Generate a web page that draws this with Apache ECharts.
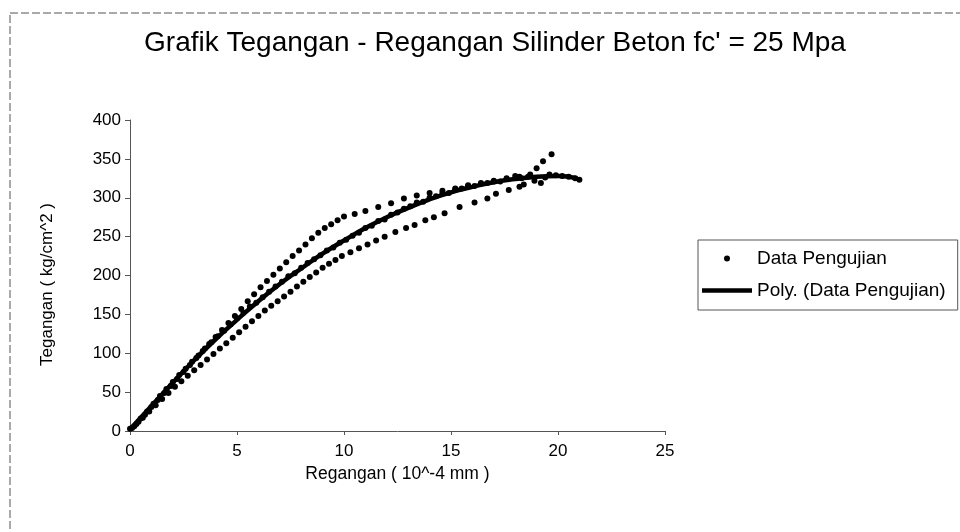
<!DOCTYPE html>
<html><head><meta charset="utf-8">
<script src="https://cdn.jsdelivr.net/npm/echarts@6/dist/echarts.min.js"></script>
<style>html,body{margin:0;padding:0;background:#fff}#c{width:960px;height:532px}</style>
</head><body><div id="c"></div>
<script>
// Specimen points (strain 10^-4, stress kg/cm2)
const strainA = [0.1,0.4,0.7,1.0,1.3,1.6,1.9,2.2,2.5,2.8,3.1,3.4,3.7,4.0,4.3,4.6,4.9,5.2,5.5,5.8,6.1,6.4,6.7,7.0,7.3,7.6,7.9,8.2,8.5,8.8,9.1,9.4,9.7,10.0,10.5,11.0,11.6,12.2,12.8,13.4,14.0,14.6,15.2,15.8,16.4,17.0,17.6,18.2,18.7,19.0,19.3,19.7];
const stressA = [4,12,21,31,40,49,58,67,76,85,94,103,112,121,130,139,148,157,167,176,185,193,201,209,217,225,232,240,248,255,261,266,271,276,279,283,288,293,299,303,306,309,312,315,318,321,324,327,330,338,347,356];
const strainB = [0.2,0.5,0.8,1.1,1.4,1.7,2.0,2.3,2.6,2.9,3.2,3.5,3.8,4.1,4.4,4.7,5.0,5.3,5.6,5.9,6.2,6.5,6.8,7.1,7.4,7.7,8.0,8.3,8.6,8.9,9.2,9.5,9.8,10.1,10.4,10.7,11.0,11.3,11.6,11.9,12.2,12.5,12.8,13.1,13.4,13.7,14.0,14.3,14.6,14.9,15.2,15.5,15.8,16.1,16.4,16.7,17.0,17.3,17.6,18.0,18.3,18.6,18.9,19.2,19.4,19.6,19.9,20.2,20.5,20.8,21.0];
const stressB = [6,16,25,35,45,54,63,72,80,89,97,106,114,122,129,137,145,152,160,165,172,179,186,192,199,203,210,216,221,226,232,236,242,246,251,255,261,264,270,272,278,281,286,289,294,295,300,302,306,306,311,312,316,315,319,319,322,321,325,328,325,327,322,319,326,330,329,328,327,325,323];
const strainC = [0.0,0.3,0.6,0.9,1.2,1.5,1.8,2.1,2.4,2.7,3.0,3.3,3.6,3.9,4.2,4.5,4.8,5.1,5.4,5.7,6.0,6.3,6.6,6.9,7.2,7.5,7.8,8.1,8.4,8.7,9.0,9.3,9.6,9.9,10.3,10.7,11.1,11.5,11.9,12.4,12.9,13.3,13.8,14.2,14.7,15.4,16.1,16.7,17.1,17.7,18.2,18.4];
const stressC = [3,9,17,25,33,41,49,57,64,71,78,85,92,99,106,113,120,127,134,141,148,155,161,167,173,179,186,192,198,204,210,215,220,225,230,235,240,245,250,256,261,265,271,275,280,288,294,299,305,310,314,317];
// Polynomial trend line
const polyStrain = [0,1,2,3,4,5,6,7,8,9,10,11,12,13,14,15,16,17,18,19,20,20.9];
const polyStress = [2,32,62,91,118,143,167,189,209,228,245,261,275,287,298,307,314,320,324,327,328,325];
// Axis ticks
const xTicks = [0,5,10,15,20,25];
const yTicks = [0,50,100,150,200,250,300,350,400];

const FONT = '"Liberation Sans", Arial, sans-serif';
const pts = [];
[[strainA,stressA],[strainB,stressB],[strainC,stressC]].forEach(([xs,ys]) => xs.forEach((x,i) => pts.push([x, ys[i]])));
const poly = polyStrain.map((x,i) => [x, polyStress[i]]);

const chart = echarts.init(document.getElementById('c'), null, {renderer:'canvas'});
chart.setOption({
  animation: false,
  backgroundColor: '#fff',
  textStyle: {fontFamily: FONT, color: '#000'},
  title: {
    text: "Grafik Tegangan - Regangan Silinder Beton fc' = 25 Mpa",
    left: 495, top: 29, padding: 0, textAlign: 'center',
    textStyle: {fontFamily: FONT, fontSize: 28, fontWeight: 'normal', color: '#000'}
  },
  graphic: [{
    type: 'rect', shape: {x: 10, y: 13, width: 1000, height: 600},
    style: {fill: 'none', stroke: '#555', lineWidth: 1, lineDash: [8, 3]}, silent: true, z: -1
  }],
  legend: {
    orient: 'vertical', left: 698, top: 240,
    padding: [9, 12, 10, 4], itemWidth: 50, itemHeight: 6, itemGap: 13,
    borderColor: '#555', borderWidth: 1,
    textStyle: {fontFamily: FONT, fontSize: 19, color: '#000'},
    data: [
      {name: 'Data Pengujian', icon: 'circle'},
      {name: 'Poly. (Data Pengujian)', icon: 'path://M0,0 L50,0 L50,4.5 L0,4.5 Z'}
    ]
  },
  grid: {left: 130, right: 295, top: 120, bottom: 101},
  xAxis: {
    type: 'value', min: 0, max: 25, interval: 5,
    name: 'Regangan ( 10^-4 mm )', nameLocation: 'middle', nameGap: 33,
    nameTextStyle: {fontFamily: FONT, fontSize: 17.5, color: '#000'},
    axisLine: {lineStyle: {color: '#555', width: 1}},
    axisTick: {show: true, length: 4, lineStyle: {color: '#555'}},
    axisLabel: {fontFamily: FONT, fontSize: 17, color: '#000', margin: 12},
    splitLine: {show: false}
  },
  yAxis: {
    type: 'value', min: 0, max: 400, interval: 50,
    name: 'Tegangan ( kg/cm^2 )', nameLocation: 'middle', nameGap: 74, nameRotate: 90,
    nameTextStyle: {fontFamily: FONT, fontSize: 17, color: '#000', padding: [0, 18, 0, 0]},
    axisLine: {show: true, lineStyle: {color: '#555', width: 1}},
    axisTick: {show: true, length: 5, lineStyle: {color: '#555'}},
    axisLabel: {fontFamily: FONT, fontSize: 17, color: '#000', margin: 9},
    splitLine: {show: false}
  },
  series: [
    {name: 'Data Pengujian', type: 'scatter', data: pts, symbol: 'circle', symbolSize: 6,
     itemStyle: {color: '#000', opacity: 1}},
    {name: 'Poly. (Data Pengujian)', type: 'line', data: poly, smooth: true, symbol: 'none',
     showSymbol: false, lineStyle: {color: '#000', width: 4.5}, itemStyle: {color: '#000'}, z: 3}
  ]
});
</script></body></html>
